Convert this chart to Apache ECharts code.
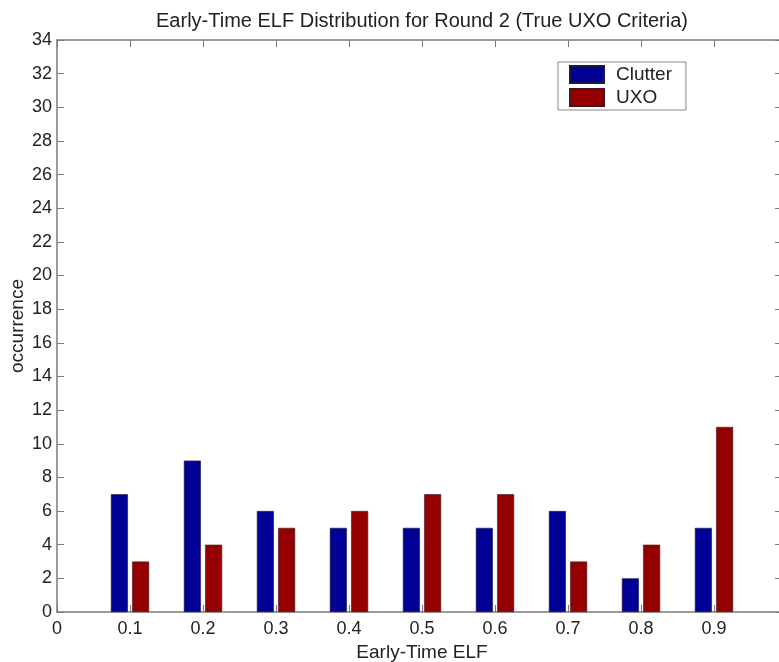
<!DOCTYPE html>
<html>
<head>
<meta charset="utf-8">
<script src="https://cdn.jsdelivr.net/npm/echarts@6/dist/echarts.min.js"></script>
<style>
  html, body { margin: 0; padding: 0; background: #fff; }
  #chart { width: 779px; height: 662px; }
</style>
</head>
<body>
<div id="chart"></div>
<script>
// bin centres and counts per bin
const binCentres = [0.1, 0.2, 0.3, 0.4, 0.5, 0.6, 0.7, 0.8, 0.9];
const clutterCounts = [7, 9, 6, 5, 5, 5, 6, 2, 5];
const uxoCounts = [3, 4, 5, 6, 7, 7, 3, 4, 11];
const seriesNames = ["Clutter", "UXO"];

const pairs = (ys) => binCentres.map((x, i) => [x, ys[i]]);
const font = "Liberation Sans, Arial, sans-serif";
const axisGray = "#7a7a7a";

let myChart = echarts.init(document.getElementById("chart"));
myChart.setOption({
  animation: false,
  title: {
    text: "Early-Time ELF Distribution for Round 2 (True UXO Criteria)",
    left: 417,
    textAlign: "center",
    top: 6,
    textStyle: { fontFamily: font, fontSize: 20, fontWeight: "normal", color: "#222" },
  },
  legend: {
    data: seriesNames,
    icon: "rect",
    orient: "vertical",
    left: 558,
    top: 62,
    itemWidth: 34,
    itemHeight: 17,
    itemGap: 4,
    padding: [3, 14, 3, 11],
    borderColor: "#888",
    borderWidth: 1,
    textStyle: { fontFamily: font, fontSize: 19, color: "#222", padding: [0, 0, 0, 7] },
  },
  grid: { left: 57, top: 40, width: 730, height: 572, outerBoundsMode: "none" },
  xAxis: [
    {
      type: "value",
      min: 0, max: 1, interval: 0.1,
      name: "Early-Time ELF",
      nameLocation: "middle",
      nameGap: 28,
      nameTextStyle: { fontFamily: font, fontSize: 19, color: "#222" },
      axisLine: { onZero: false, lineStyle: { color: axisGray, width: 1.5 } },
      axisTick: { inside: true, length: 7, lineStyle: { color: axisGray } },
      axisLabel: { fontFamily: font, fontSize: 18, color: "#222", margin: 8,
        formatter: (v) => (v >= 0.999 ? "1" : String(Math.round(v * 10) / 10)) },
      splitLine: { show: false },
    },
    {
      type: "value",
      position: "top",
      min: 0, max: 1, interval: 0.1,
      axisLine: { onZero: false, lineStyle: { color: axisGray, width: 1.5 } },
      axisTick: { inside: true, length: 7, lineStyle: { color: axisGray } },
      axisLabel: { show: false },
      splitLine: { show: false },
    },
  ],
  yAxis: [
    {
      type: "value",
      min: 0, max: 34, interval: 2,
      name: "occurrence",
      nameLocation: "middle",
      nameGap: 30,
      nameMoveOverlap: false,
      nameTextStyle: { fontFamily: font, fontSize: 19, color: "#222" },
      axisLine: { show: true, onZero: false, lineStyle: { color: axisGray, width: 1.5 } },
      axisTick: { show: true, inside: true, length: 7, lineStyle: { color: axisGray } },
      axisLabel: { fontFamily: font, fontSize: 18, color: "#222", margin: 5 },
      splitLine: { show: false },
    },
    {
      type: "value",
      position: "right",
      min: 0, max: 34, interval: 2,
      axisLine: { show: true, onZero: false, lineStyle: { color: axisGray, width: 1.5 } },
      axisTick: { show: true, inside: true, length: 12, lineStyle: { color: axisGray } },
      axisLabel: { show: false },
      splitLine: { show: false },
    },
  ],
  series: [
    {
      name: seriesNames[0],
      type: "bar",
      data: pairs(clutterCounts),
      barWidth: 17,
      barGap: "25%",
      itemStyle: { color: "#000094", borderColor: "#1a1a40", borderWidth: 0.6 },
    },
    {
      name: seriesNames[1],
      type: "bar",
      data: pairs(uxoCounts),
      barWidth: 17,
      barGap: "25%",
      itemStyle: { color: "#940000", borderColor: "#401a1a", borderWidth: 0.6 },
    },
  ],
});
</script>
</body>
</html>
